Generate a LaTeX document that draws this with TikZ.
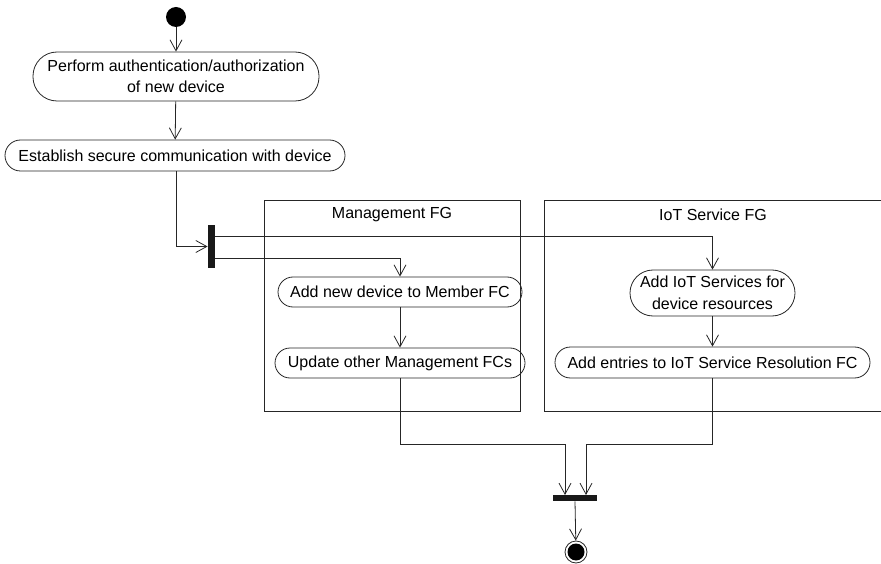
\documentclass[tikz,border=0pt]{standalone}
\usepackage{fontspec}
\setmainfont{Liberation Sans}
\usetikzlibrary{arrows.meta}

\begin{document}
\begin{tikzpicture}[x=1pt,y=-1pt,
  line width=0.8pt,
  flow/.style={draw=black!85, -{Straight Barb[length=11pt,width=12pt,line width=0.8pt]}},
  act/.style={draw=black!85, inner sep=0pt, align=center,
    font=\fontsize{16}{21.5}\selectfont},
  bar/.style={fill=black!90, draw=none, inner sep=0pt},
  group/.style={draw=black!85},
  grouptitle/.style={font=\fontsize{16}{19}\selectfont, inner sep=0pt}]

\useasboundingbox (0,0) rectangle (881,564);

% swimlane-like groups
\draw[group] (264,200) rectangle (520,411);
\node[grouptitle] (mgtitle) at (392,215) {Management FG};
\draw[group] (881,200) -- (544,200) -- (544,411) -- (881,411);
\node[grouptitle] (iottitle) at (713,215) {IoT Service FG};

% initial and final states
\node[circle, fill=black, inner sep=0pt, minimum size=20pt] (start) at (176,17) {};
\node[circle, draw=black!85, line width=0.8pt, inner sep=0pt, minimum size=22pt] (final) at (576,552) {};
\fill[black] (final) circle (8.5pt);

% actions
\node[act, minimum width=286pt, minimum height=49pt, rounded corners=24pt] (auth) at (176,76.5)
  {Perform authentication/authorization\\of new device};
\node[act, minimum width=340pt, minimum height=31pt, rounded corners=15.5pt] (secure) at (175,155.5)
  {Establish secure communication with device};
\node[act, minimum width=244pt, minimum height=30pt, rounded corners=15pt] (member) at (400,292)
  {Add new device to Member FC};
\node[act, minimum width=250pt, minimum height=30pt, rounded corners=15pt] (update) at (400,363)
  {Update other Management FCs};
\node[act, minimum width=165pt, minimum height=46pt, rounded corners=23pt] (iotsvc) at (712.5,293)
  {Add IoT Services for\\device resources};
\node[act, minimum width=315pt, minimum height=31pt, rounded corners=15.5pt] (resol) at (712.5,362.5)
  {Add entries to IoT Service Resolution FC};

% fork and join bars
\node[bar, minimum width=7pt, minimum height=43pt] (fork) at (211.5,246.5) {};
\node[bar, minimum width=44pt, minimum height=6pt] (join) at (575,498) {};

% coordinates for the routed connectors
\coordinate (forkA) at (215,236);
\coordinate (forkB) at (215,258);
\coordinate (joinL) at (565,495);
\coordinate (joinR) at (586,495);

% flows
\draw[flow] (secure.south -| 176,0) |- (fork.west |- 0,246.5);
\draw[flow] (start) -- (auth);
\draw[flow] (auth) -- (secure);
\draw[flow] (forkA) -| (iotsvc.north);
\draw[flow] (forkB) -| (member.north);
\draw[flow] (member) -- (update);
\draw[flow] (iotsvc) -- (resol);
\draw[flow] (update.south) |- (565,444) -- (joinL);
\draw[flow] (resol.south) |- (586,444) -- (joinR);
\draw[flow] (join.south) -- (final);

\end{tikzpicture}
\end{document}
